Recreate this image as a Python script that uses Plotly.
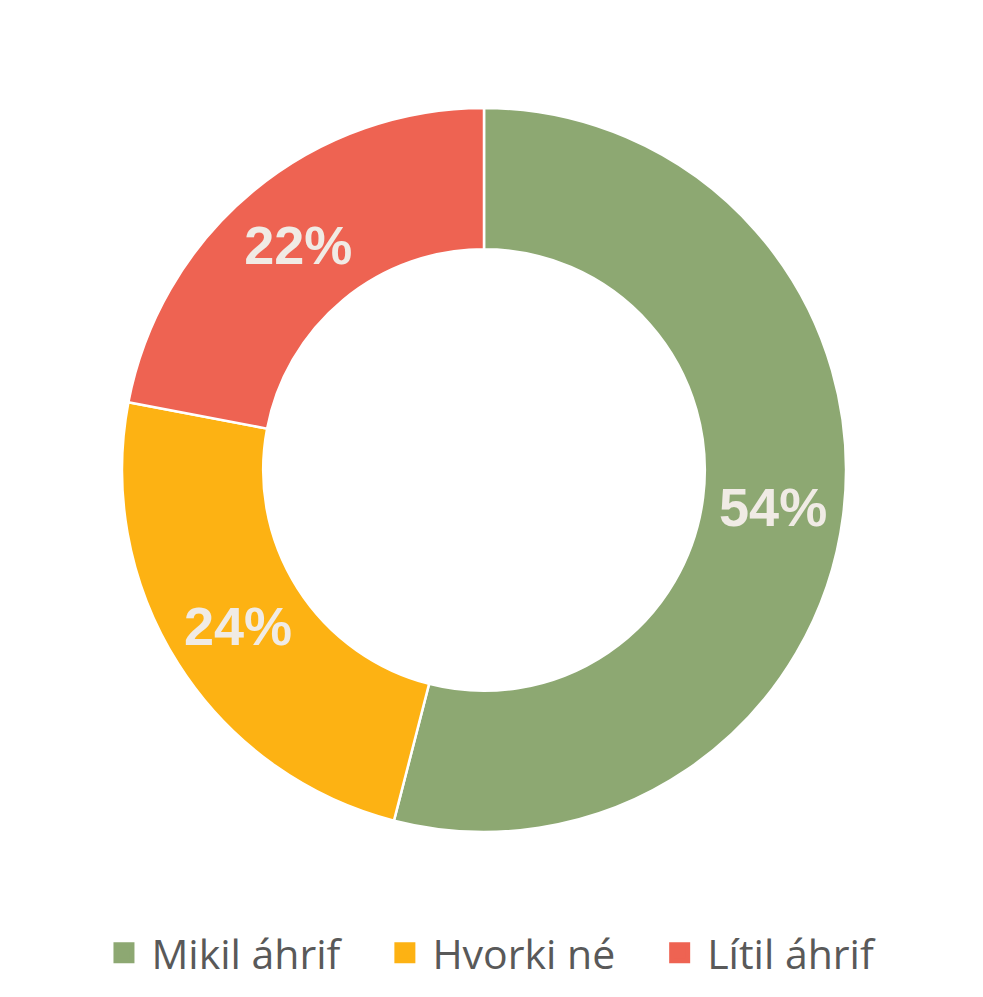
import plotly.graph_objects as go

labels = ["Mikil áhrif", "Hvorki né", "Lítil áhrif"]
values = [54, 24, 22]
colors = ["#8DA872", "#FDB213", "#EE6352"]

W, H = 983, 997
# page body has an 8px offset
cx, cy, r = 476, 462, 362

fig = go.Figure()
fig.add_trace(go.Pie(
    labels=labels,
    values=values,
    hole=0.61,
    sort=False,
    direction="clockwise",
    rotation=0,
    marker=dict(colors=colors, line=dict(color="white", width=2.5)),
    texttemplate="%{percent:.0%}",
    textposition="inside",
    insidetextorientation="horizontal",
    textfont=dict(family="Liberation Sans", size=54, color="#F0EBE5", weight="bold"),
    domain=dict(x=[(cx - r) / W, (cx + r) / W], y=[1 - (cy + r) / H, 1 - (cy - r) / H]),
    showlegend=False,
))

# legend entries with square swatches
pad = "\u00a0" * 3
for i, (lab, col) in enumerate(zip(labels, colors)):
    fig.add_trace(go.Scatter(
        x=[None], y=[None], mode="markers",
        name=lab + (pad if i < len(labels) - 1 else ""),
        marker=dict(symbol="square", size=16, color=col, line=dict(color=col, width=5)),
        showlegend=True,
    ))

fig.update_layout(
    width=W, height=H,
    margin=dict(l=0, r=0, t=0, b=0),
    paper_bgcolor="white",
    plot_bgcolor="white",
    xaxis=dict(visible=False),
    yaxis=dict(visible=False),
    showlegend=True,
    legend=dict(
        orientation="h", x=0.09, xanchor="left", y=0.052, yanchor="middle",
        font=dict(family="Open Sans", size=41, color="#595959"),
        itemwidth=45,
        bgcolor="rgba(0,0,0,0)",
    ),
)

fig.write_html("out.html")
